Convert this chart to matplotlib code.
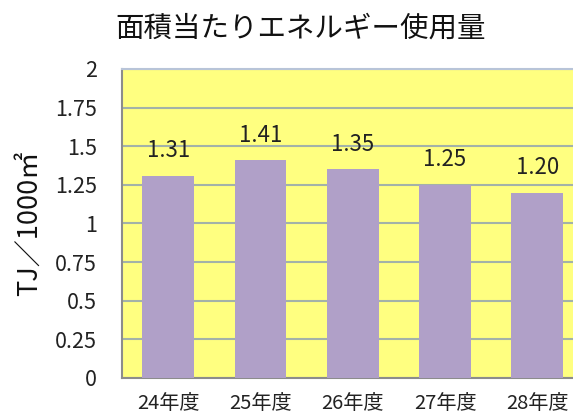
import matplotlib
matplotlib.use('Agg')
from matplotlib import pyplot as plt

plt.rcParams['font.family'] = ['Noto Sans CJK JP', 'DejaVu Sans']

years = ['24年度', '25年度', '26年度', '27年度', '28年度']
values = [1.31, 1.41, 1.35, 1.25, 1.20]
labels = ['1.31', '1.41', '1.35', '1.25', '1.20']
yticks = [0, 0.25, 0.5, 0.75, 1, 1.25, 1.5, 1.75, 2]
ytick_labels = ['0', '0.25', '0.5', '0.75', '1', '1.25', '1.5', '1.75', '2']

fig = plt.figure(figsize=(5.73, 4.15), dpi=100)
# axes runs past the right edge like the original screenshot
ax = fig.add_axes([0.2129, 0.0892, 0.8054, 0.7446])
ax.set_facecolor('#FFFF80')

x = range(len(years))
bars = ax.bar(x, values, width=0.56, color='#B0A0C8', zorder=3)

for i, v in enumerate(values):
    ax.annotate(labels[i], (i, v), xytext=(0, 18), textcoords='offset points',
                ha='center', va='center', fontsize=16, color='#222222')

ax.set_xlim(-0.5, 4.5)
ax.set_ylim(0, 2)
ax.set_yticks(yticks)
ax.set_yticklabels(ytick_labels)
ax.set_xticks(list(x))
ax.set_xticklabels(years)
ax.tick_params(axis='y', length=0, pad=18, labelsize=15.5, labelcolor='#222222')
ax.tick_params(axis='x', length=0, pad=11, labelsize=14.5, labelcolor='#222222')

ax.grid(axis='y', color='#A3B2A8', linewidth=1.5, zorder=1)
ax.set_axisbelow(True)

ax.spines['left'].set_color('#8C8C8C')
ax.spines['left'].set_linewidth(1.5)
ax.spines['bottom'].set_color('#8C8C8C')
ax.spines['bottom'].set_linewidth(1.5)
ax.spines['top'].set_color('#B8C4D8')
ax.spines['top'].set_linewidth(1.5)
ax.spines['right'].set_visible(False)

fig.text(0.524, 0.932, '面積当たりエネルギー使用量', ha='center', va='center', fontsize=20.5, color='#111111')
fig.text(0.052, 0.463, 'TJ／1000㎡', rotation=90, ha='center', va='center', fontsize=19.5, color='#111111')

plt.savefig('out.png', dpi=100)
